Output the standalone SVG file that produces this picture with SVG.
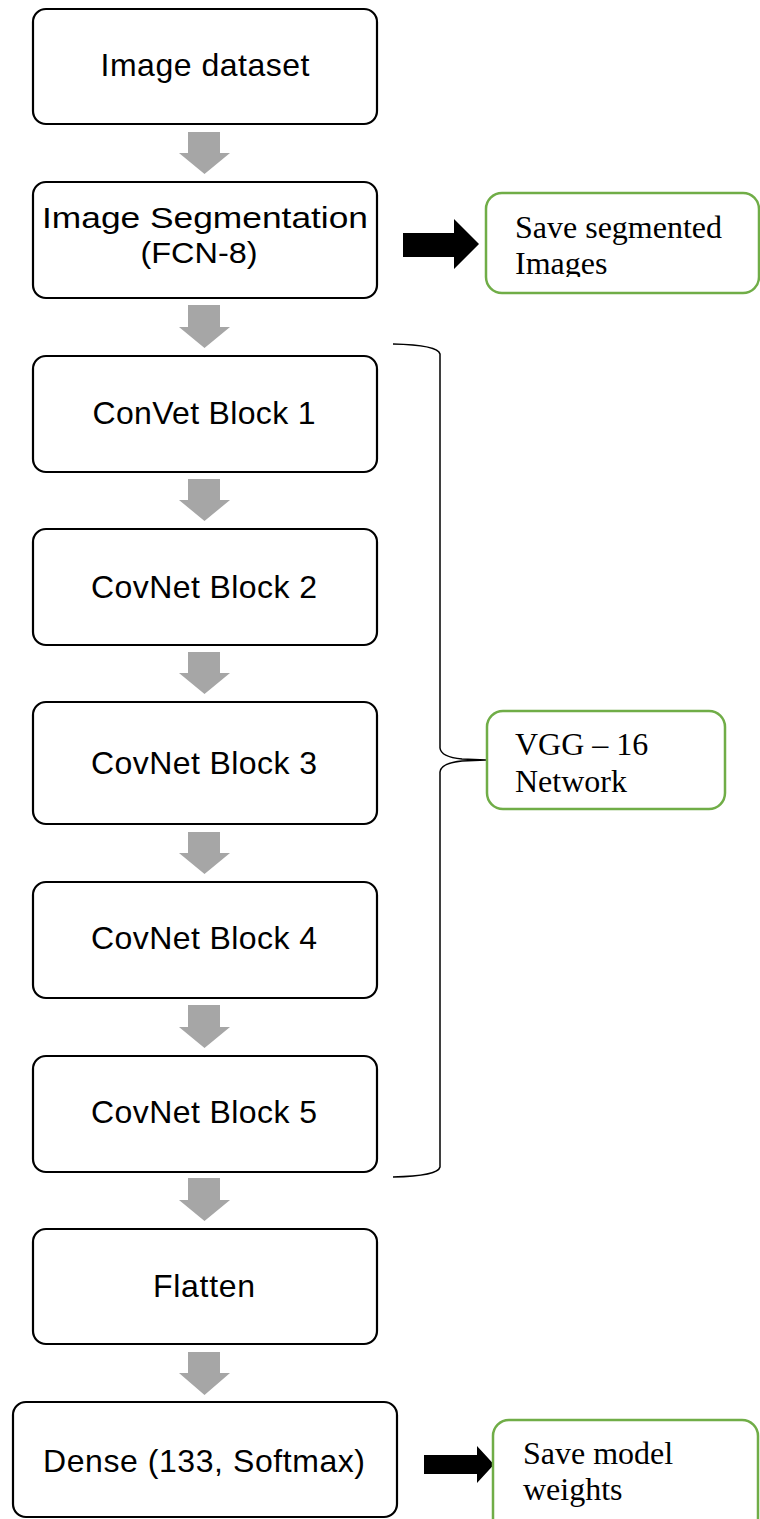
<svg xmlns="http://www.w3.org/2000/svg" width="760" height="1519" viewBox="0 0 760 1519">
<style>
.box{fill:#fff;stroke:#000;stroke-width:2.2}
.gbox{fill:#fff;stroke:#70AD47;stroke-width:2.5}
.t{font-family:"Liberation Sans",Arial,sans-serif;font-size:32px;fill:#000;text-anchor:middle}
.t2{font-family:"Liberation Sans",Arial,sans-serif;font-size:29px;fill:#000;text-anchor:middle}
.s{font-family:"Liberation Serif","Times New Roman",serif;font-size:32px;fill:#000}
.ga{fill:#A6A6A6}
.ba{fill:#000}
.brace{fill:none;stroke:#000;stroke-width:1.5}
</style>
<defs>
<clipPath id="clipG1"><rect x="486" y="193" width="274" height="84"/></clipPath>
</defs>
<g id="connectors">
<path class="ga" d="M188,132 H220 V153 H230 L204.5,174 L179,153 H188 Z"/>
<path class="ga" d="M188,305 H220 V327 H230 L204.5,348 L179,327 H188 Z"/>
<path class="ga" d="M188,479 H220 V500 H230 L204.5,521 L179,500 H188 Z"/>
<path class="ga" d="M188,652 H220 V673 H230 L204.5,694 L179,673 H188 Z"/>
<path class="ga" d="M188,832 H220 V853 H230 L204.5,874 L179,853 H188 Z"/>
<path class="ga" d="M188,1005 H220 V1027 H230 L204.5,1048 L179,1027 H188 Z"/>
<path class="ga" d="M188,1178 H220 V1200 H230 L204.5,1221 L179,1200 H188 Z"/>
<path class="ga" d="M188,1352 H220 V1373 H230 L204.5,1395 L179,1373 H188 Z"/>
<path class="ba" d="M403,233 H454 V219 L479,244 L454,269 V257 H403 Z"/>
<path class="ba" d="M424,1455 H477 V1446 L494,1464.5 L477,1483 V1474 H424 Z"/>
<path class="brace" d="M393,344 Q438,345 440,354 L440,748 Q441,757 462,759 L486,760 L462,761 Q441,763 440,772 L440,1167 Q438,1176 393,1177"/>
</g>
<g id="n1"><rect class="box" x="33" y="9" width="344" height="115" rx="13"/><text class="t" x="205" y="76" textLength="209">Image dataset</text></g>
<g id="n2"><rect class="box" x="33" y="182" width="344" height="116" rx="13"/><text class="t2" x="205" y="228" textLength="326" lengthAdjust="spacingAndGlyphs">Image Segmentation</text><text class="t2" x="199" y="263" textLength="117" lengthAdjust="spacingAndGlyphs">(FCN-8)</text></g>
<g id="n3"><rect class="box" x="33" y="356" width="344" height="116" rx="13"/><text class="t" x="204" y="424" textLength="223">ConVet Block 1</text></g>
<g id="n4"><rect class="box" x="33" y="529" width="344" height="116" rx="13"/><text class="t" x="204" y="598" textLength="226">CovNet Block 2</text></g>
<g id="n5"><rect class="box" x="33" y="702" width="344" height="122" rx="13"/><text class="t" x="204" y="774" textLength="226">CovNet Block 3</text></g>
<g id="n6"><rect class="box" x="33" y="882" width="344" height="116" rx="13"/><text class="t" x="204" y="949" textLength="226">CovNet Block 4</text></g>
<g id="n7"><rect class="box" x="33" y="1056" width="344" height="116" rx="13"/><text class="t" x="204" y="1123" textLength="226">CovNet Block 5</text></g>
<g id="n8"><rect class="box" x="33" y="1229" width="344" height="115" rx="13"/><text class="t" x="204" y="1297" textLength="102">Flatten</text></g>
<g id="n9"><rect class="box" x="13" y="1402" width="384" height="115" rx="13"/><text class="t" x="204" y="1472" textLength="322">Dense (133, Softmax)</text></g>
<g id="g1"><rect class="gbox" x="486" y="193" width="273" height="100" rx="16"/><g clip-path="url(#clipG1)"><text class="s" x="515" y="238">Save segmented</text><text class="s" x="515" y="274">Images</text></g></g>
<g id="g2"><rect class="gbox" x="487" y="711" width="238" height="98" rx="16"/><text class="s" x="515" y="755">VGG – 16</text><text class="s" x="515" y="792">Network</text></g>
<g id="g3"><rect class="gbox" x="493" y="1420" width="265" height="115" rx="16"/><text class="s" x="523" y="1464">Save model</text><text class="s" x="523" y="1500">weights</text></g>
</svg>
